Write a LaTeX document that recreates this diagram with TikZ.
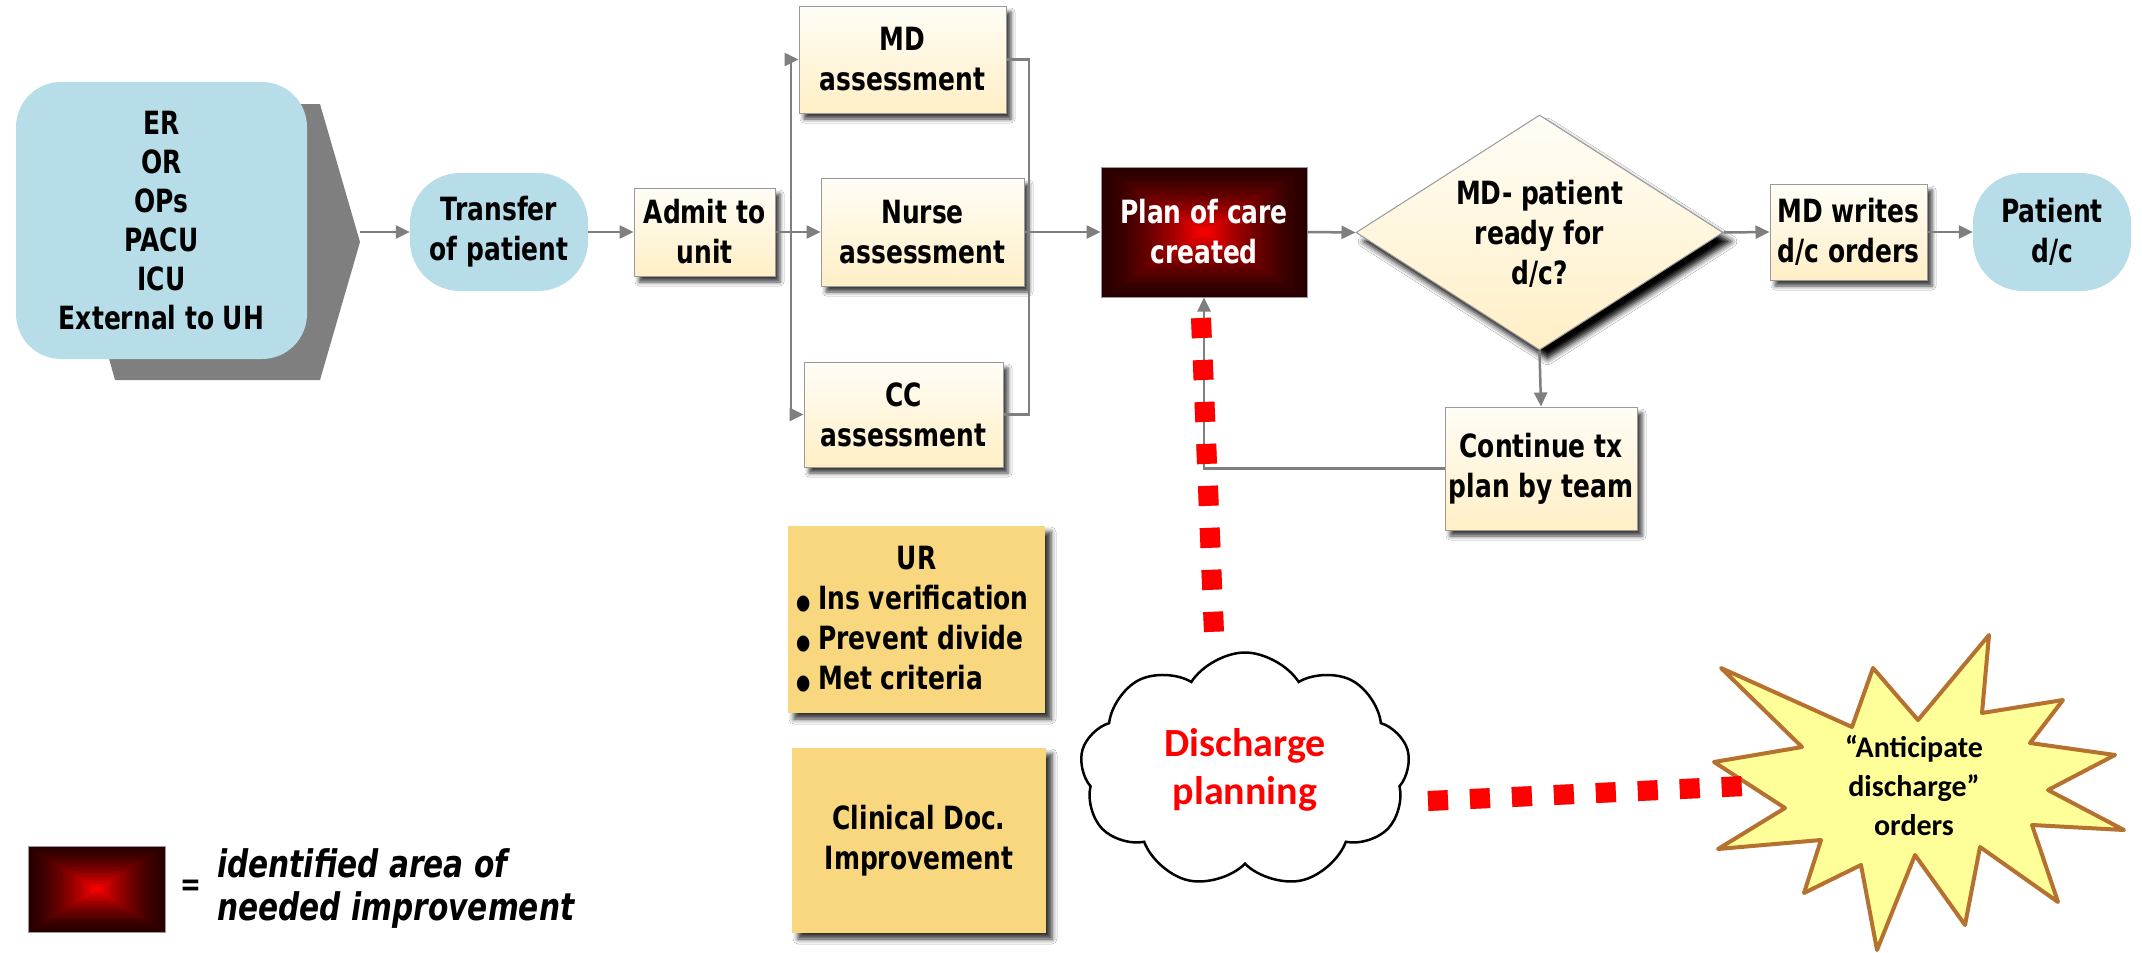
\documentclass[tikz,border=0pt]{standalone}
\usepackage{fontspec}
\newfontfamily\vf{DejaVu Sans}[FakeStretch=0.78]
\newfontfamily\cf{Carlito}
\usetikzlibrary{arrows.meta,shapes.geometric,shapes.symbols,shadows,shadows.blur,calc}
\definecolor{lblue}{HTML}{B7DDE8}
\definecolor{cream}{HTML}{FFEFC6}
\definecolor{creamtop}{HTML}{FFFDF6}
\definecolor{urfill}{HTML}{F9D77F}
\definecolor{conn}{HTML}{7F7F7F}
\definecolor{hotdark}{HTML}{2A0000}
\definecolor{staryel}{HTML}{FFFF99}
\definecolor{starbrd}{HTML}{B5712F}
\definecolor{dpred}{HTML}{FF0000}
\newcommand{\bul}{{\fontsize{21}{21}\selectfont ●}\hspace{8pt}}
\tikzset{
 base/.style={inner sep=0pt, align=center, font=\vf\bfseries\fontsize{32}{40}\selectfont},
 term/.style={base, fill=lblue, rounded corners=50pt},
 proc/.style={base, draw=black!40, line width=1pt, top color=creamtop, bottom color=cream,
   blur shadow={shadow xshift=5pt,shadow yshift=-6pt,shadow blur radius=4pt,shadow opacity=75}},
 diam/.style={diamond, draw=black!40, line width=1pt, top color=creamtop, bottom color=cream, inner sep=0pt,
   blur shadow={shadow xshift=8pt,shadow yshift=-9pt,shadow blur radius=6pt,shadow opacity=100}},
 notebox/.style={base, fill=urfill,
   blur shadow={shadow xshift=6pt,shadow yshift=-6pt,shadow blur radius=5pt,shadow opacity=80}},
 hotbox/.style={base, draw=black!40, line width=1pt, text=white, path picture={
   \foreach \k in {0,...,30}{
     \pgfmathsetmacro\f{\k/61}
     \pgfmathtruncatemacro\p{100*(\k/30)^1.5}
     \fill[red!\p!hotdark] ($(path picture bounding box.south west)!\f!(path picture bounding box.north east)$) rectangle ($(path picture bounding box.north east)!\f!(path picture bounding box.south west)$);
   }}},
 connline/.style={draw=conn, line width=2.5pt},
 connarrow/.style={draw=conn, line width=2.5pt, -{Triangle[length=14pt,width=13pt]}},
 reddash/.style={draw=dpred, line width=20pt, dash pattern=on 20pt off 22pt},
}
\begin{document}
\begin{tikzpicture}[x=1pt,y=-1pt]
\fill[white] (0,0) rectangle (2142,953);
\useasboundingbox (0,0) rectangle (2142,953);

% source block
\fill[conn] (108,104) -- (320,104) -- (360,242) -- (320,380) -- (115,380) -- (108,355) -- cycle;
\node[term, rounded corners=45pt, minimum width=291pt, minimum height=277pt,
  font=\vf\bfseries\fontsize{32}{39}\selectfont] (src) at (161.5,220.5)
  {ER\\OR\\OPs\\PACU\\ICU\\External to UH};
\coordinate (srctip) at (360,232);

\node[term, minimum width=178pt, minimum height=118pt] (transfer) at (499,232) {Transfer\\of patient};
\node[proc, minimum width=141pt, minimum height=88pt] (admit) at (704.5,232) {Admit to\\unit};
\node[proc, minimum width=207pt, minimum height=107pt] (md) at (902.5,59.5) {MD\\assessment};
\node[proc, minimum width=203pt, minimum height=108pt] (nurse) at (922.5,232) {Nurse\\assessment};
\node[proc, minimum width=199pt, minimum height=105pt] (cc) at (903.5,414.5) {CC\\assessment};
\node[hotbox, minimum width=206pt, minimum height=130pt] (plan) at (1204,232) {Plan of care\\created};
\node[diam, minimum width=367pt, minimum height=235pt] (dec) at (1539.5,232.5) {};
\node[base] (dectext) at (1539.5,233.5) {MD- patient\\ready for\\d/c?};
\node[proc, minimum width=192pt, minimum height=123pt] (cont) at (1541,468.5) {Continue tx\\plan by team};
\node[proc, minimum width=157pt, minimum height=96pt] (mdw) at (1848.5,232) {MD writes\\d/c orders};
\node[term, minimum width=158pt, minimum height=118pt] (pdc) at (2052,232) {Patient\\d/c};

% connectors
\draw[connarrow] (srctip) -- (transfer.west);
\draw[connarrow] (transfer.east) -- (admit.west);
\coordinate (split) at (791,232);
\draw[connline] (admit.east) -- (split);
\draw[connarrow] (split) -- (nurse.west);
\draw[connarrow] (split) |- (md.west);
\draw[connarrow] (split) |- (cc.west);
\coordinate (merge) at (1029,232);
\draw[connline] (md.east) -| (merge) |- (cc.east);
\draw[connarrow] (nurse.east) -- (plan.west);
\draw[connarrow] (plan.east) -- (dec.west);
\draw[connarrow] (dec.south) -- (cont.north);
\draw[connarrow] (cont.west) -| (plan.south);
\draw[connarrow] (dec.east) -- (mdw.west);
\draw[connarrow] (mdw.east) -- (pdc.west);

% side boxes
\node[notebox, minimum width=257pt, minimum height=187pt] (ur) at (916.5,619.5)
 {UR\\\makebox[241pt][l]{\bul Ins verification}\\\makebox[241pt][l]{\bul Prevent divide}\\\makebox[241pt][l]{\bul Met criteria}};
\node[notebox, minimum width=254pt, minimum height=185pt] (cdi) at (919,840.5) {Clinical Doc.\\Improvement};

% cloud
\node[cloud, draw=black, line width=2.5pt, fill=white, cloud puffs=9, cloud puff arc=115, aspect=1.35,
  minimum width=330pt, minimum height=235pt, inner sep=0pt, align=center, text=dpred,
  font=\cf\bfseries\fontsize{40}{48}\selectfont] (cloud) at (1245,770) {Discharge\\planning};

% star
\draw[fill=staryel, draw=starbrd, line width=4pt, line join=round]
 (1721,668) -- (1852,727) -- (1873,668) -- (1918,720) -- (1989,635) -- (1982,713) -- (2063,700) -- (2030,743)
 -- (2115,755) -- (2048,790) -- (2124,830) -- (2032,825) -- (2058,902) -- (1980,847) -- (1965,925) -- (1915,855)
 -- (1877,950) -- (1861,865) -- (1804,893) -- (1821,840) -- (1718,849) -- (1785,808) -- (1714,762) -- (1802,747) -- cycle;
\node[align=center, font=\cf\bfseries\fontsize{30}{39}\selectfont] (anti) at (1914,786) {“Anticipate\\discharge”\\orders};

% red dotted links
\coordinate (r1) at (1201,318);
\coordinate (r2) at (1214,633);
\coordinate (r3) at (1428,801);
\coordinate (r4) at (1745,786);
\draw[reddash, draw=black, opacity=0.25, shift={(3pt,-4pt)}] (r1) -- (r2);
\draw[reddash, draw=black, opacity=0.25, shift={(3pt,-4pt)}] (r3) -- (r4);
\draw[reddash] (r1) -- (r2);
\draw[reddash] (r3) -- (r4);

% legend
\node[hotbox, minimum width=137pt, minimum height=86pt] (legbox) at (96.5,889) {};
\node[base] (eq) at (191,888) {=};
\node[base, anchor=west, align=left, font=\vf\bfseries\itshape\fontsize{38}{43}\selectfont] (legtext) at (217,888.5)
 {identified area of\\needed improvement};
\end{tikzpicture}
\end{document}
